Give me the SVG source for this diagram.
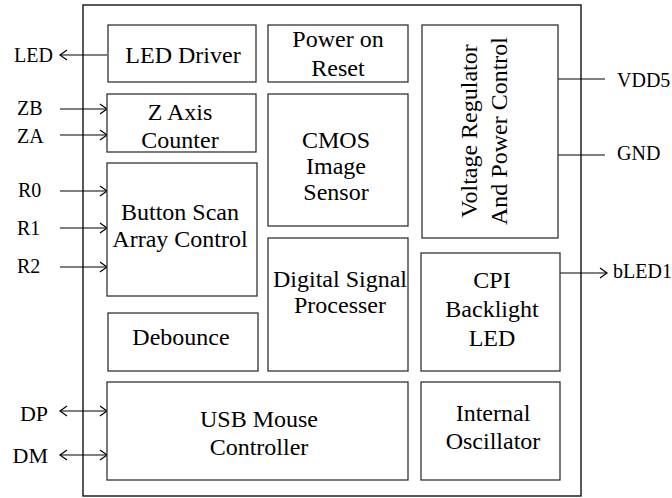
<svg xmlns="http://www.w3.org/2000/svg" width="672" height="498" viewBox="0 0 672 498">
<style>
.box{fill:#fff;stroke:#333;stroke-width:1.3}
.outer{fill:#fff;stroke:#000;stroke-width:1.3}
text{font-family:"Times New Roman",Times,"Liberation Serif",Tinos,"Noto Serif","DejaVu Serif","Nimbus Roman","FreeSerif",serif}
.t{font-size:24px;fill:#000;text-anchor:middle}
.lbl{font-size:20px;fill:#000}
.big{font-size:22px}
.ln{stroke:#000;stroke-width:1.2;fill:none}
</style>
<defs>
<marker id="ah" markerWidth="10" markerHeight="12" refX="8" refY="6" orient="auto-start-reverse" markerUnits="userSpaceOnUse">
<path d="M1,1 L8,6 L1,11" fill="none" stroke="#000" stroke-width="1.2"/>
</marker>
</defs>
<rect class="outer" x="83" y="5" width="498" height="491"/>
<g id="connectors">
<line class="ln" x1="107" y1="55" x2="60" y2="55" marker-end="url(#ah)"/>
<line class="ln" x1="60" y1="109" x2="107" y2="109" marker-end="url(#ah)"/>
<line class="ln" x1="60" y1="135" x2="107" y2="135" marker-end="url(#ah)"/>
<line class="ln" x1="60" y1="191" x2="107" y2="191" marker-end="url(#ah)"/>
<line class="ln" x1="60" y1="228" x2="107" y2="228" marker-end="url(#ah)"/>
<line class="ln" x1="60" y1="267" x2="107" y2="267" marker-end="url(#ah)"/>
<line class="ln" x1="60" y1="411" x2="107" y2="411" marker-start="url(#ah)" marker-end="url(#ah)"/>
<line class="ln" x1="60" y1="455" x2="107" y2="455" marker-start="url(#ah)" marker-end="url(#ah)"/>
<line class="ln" x1="558" y1="79" x2="605" y2="79"/>
<line class="ln" x1="558" y1="155" x2="605" y2="155"/>
<line class="ln" x1="560" y1="273" x2="607" y2="273" marker-end="url(#ah)"/>
</g>
<g id="led-driver"><rect class="box" x="108" y="25" width="148" height="57"/><text class="t" x="183" y="63">LED Driver</text></g>
<g id="power-on-reset"><rect class="box" x="268" y="25" width="140" height="57"/><text class="t" x="338" y="47">Power on</text><text class="t" x="338" y="76">Reset</text></g>
<g id="voltage-regulator"><rect class="box" x="422" y="25" width="136" height="213"/><text class="t" transform="translate(477,131) rotate(-90)">Voltage Regulator</text><text class="t" transform="translate(507,131) rotate(-90)">And Power Control</text></g>
<g id="z-axis-counter"><rect class="box" x="107" y="94" width="149" height="58"/><text class="t" x="180" y="120">Z Axis</text><text class="t" x="180" y="148">Counter</text></g>
<g id="cmos-image-sensor"><rect class="box" x="268" y="94" width="140" height="132"/><text class="t" x="336" y="148">CMOS</text><text class="t" x="336" y="174">Image</text><text class="t" x="336" y="200">Sensor</text></g>
<g id="button-scan"><rect class="box" x="107" y="163" width="150" height="133"/><text class="t" x="180" y="220">Button Scan</text><text class="t" x="180" y="247">Array Control</text></g>
<g id="debounce"><rect class="box" x="108" y="313" width="150" height="58"/><text class="t" x="181" y="345">Debounce</text></g>
<g id="dsp"><rect class="box" x="268" y="238" width="140" height="133"/><text class="t" x="340" y="287">Digital Signal</text><text class="t" x="340" y="313">Processer</text></g>
<g id="cpi-backlight"><rect class="box" x="421" y="253" width="139" height="118"/><text class="t" x="492" y="288">CPI</text><text class="t" x="492" y="317">Backlight</text><text class="t" x="492" y="346">LED</text></g>
<g id="usb-mouse"><rect class="box" x="107" y="382" width="301" height="98"/><text class="t" x="259" y="427">USB Mouse</text><text class="t" x="259" y="455">Controller</text></g>
<g id="internal-osc"><rect class="box" x="421" y="382" width="139" height="98"/><text class="t" x="493" y="421">Internal</text><text class="t" x="493" y="449">Oscillator</text></g>
<g id="labels">
<text class="lbl" x="53" y="62" text-anchor="end">LED</text>
<text class="lbl" x="17" y="115">ZB</text>
<text class="lbl" x="17" y="143">ZA</text>
<text class="lbl" x="18" y="197">R0</text>
<text class="lbl" x="17" y="235">R1</text>
<text class="lbl" x="17" y="273">R2</text>
<text class="lbl big" x="48" y="421" text-anchor="end">DP</text>
<text class="lbl big" x="48" y="463" text-anchor="end">DM</text>
<text class="lbl" x="617" y="87">VDD5</text>
<text class="lbl" x="617" y="160">GND</text>
<text class="lbl" x="613" y="278">bLED1</text>
</g>
</svg>
